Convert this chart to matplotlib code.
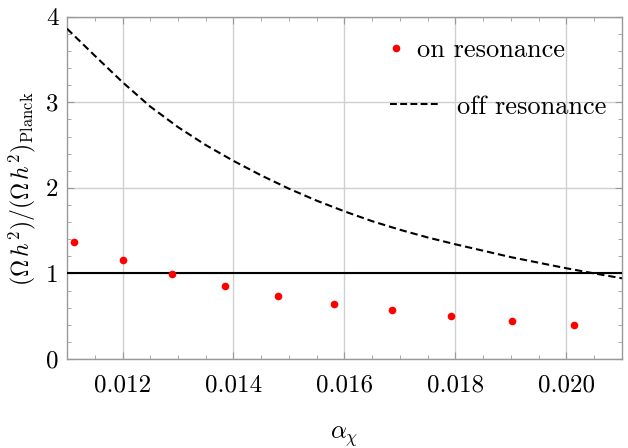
import matplotlib
matplotlib.use("Agg")
import matplotlib.pyplot as plt
from matplotlib.ticker import MultipleLocator
from matplotlib.lines import Line2D

plt.rcParams['font.family'] = 'serif'
plt.rcParams['font.serif'] = ['cmr10', 'DejaVu Serif']
plt.rcParams['mathtext.fontset'] = 'cm'
plt.rcParams['axes.formatter.use_mathtext'] = True

# on-resonance points
on_x = [0.01113, 0.01200, 0.01290, 0.01385, 0.01481, 0.01581, 0.01685, 0.01792, 0.01901, 0.02014]
on_y = [1.363, 1.153, 0.989, 0.849, 0.732, 0.639, 0.569, 0.499, 0.440, 0.394]

# off-resonance curve
off_x = [0.0110, 0.0115, 0.0120, 0.0125, 0.0130, 0.0135, 0.0140, 0.0145, 0.0150, 0.0155,
         0.0160, 0.0165, 0.0170, 0.0175, 0.0180, 0.0185, 0.0190, 0.0195, 0.0200, 0.0205, 0.0210]
off_y = [3.86, 3.545, 3.235, 2.95, 2.71, 2.50, 2.315, 2.145, 1.99, 1.85,
         1.725, 1.61, 1.51, 1.42, 1.34, 1.265, 1.19, 1.125, 1.06, 1.00, 0.943]

planck = 1.0

x_ticks = [0.012, 0.014, 0.016, 0.018, 0.020]
x_tick_labels = ['0.012', '0.014', '0.016', '0.018', '0.020']
y_ticks = [0, 1, 2, 3, 4]
y_tick_labels = ['0', '1', '2', '3', '4']

fig = plt.figure(figsize=(6.28, 4.48), dpi=100)
ax = fig.add_axes([0.1067, 0.1987, 0.8837, 0.764])

h_on, = ax.plot(on_x, on_y, 'o', color='#ff0000', markersize=5.5, markeredgewidth=0,
                zorder=4)
h_off, = ax.plot(off_x, off_y, '--', color='black', linewidth=1.5, dashes=(3.5, 1.9),
                 zorder=3)
ax.axhline(planck, color='black', linewidth=1.5, zorder=3)

ax.set_xlim(0.011, 0.021)
ax.set_ylim(0, 4)
ax.set_xticks(x_ticks)
ax.set_xticklabels(x_tick_labels)
ax.set_yticks(y_ticks)
ax.set_yticklabels(y_tick_labels)
ax.xaxis.set_minor_locator(MultipleLocator(0.0005))
ax.yaxis.set_minor_locator(MultipleLocator(0.2))
ax.tick_params(which='both', direction='in', top=True, right=True, color='#999999')
ax.tick_params(which='major', length=5, width=0.8, labelsize=18)
ax.tick_params(which='minor', length=3, width=0.6)
ax.tick_params(axis='x', which='major', pad=11)
ax.tick_params(axis='y', which='major', pad=6)
ax.grid(True, which='major', color='#d0d0d0', linewidth=1.0)
for s in ax.spines.values():
    s.set_color('#999999')
    s.set_linewidth(1.0)

ax.set_xlabel(r'$\alpha_\chi$', fontsize=18, labelpad=20)
ax.set_ylabel(r'$(\Omega\,h^2)/(\Omega\,h^2)_{\rm Planck}$', fontsize=17)
ax.yaxis.set_label_coords(-0.052, 0.498)

leg1 = ax.legend([h_on], ['on resonance'], loc='center left', frameon=False, fontsize=19,
                 handlelength=1.0, handletextpad=0.27, borderpad=0, borderaxespad=0,
                 bbox_to_anchor=(0.5694, 0.9027))
ax.add_artist(leg1)
off_handle = Line2D([], [], color='black', linestyle='--', linewidth=1.5, dashes=(3.3, 1.6))
leg2 = ax.legend([off_handle], ['off resonance'], loc='center left', frameon=False, fontsize=19,
                 handlelength=1.9, handletextpad=0.64, borderpad=0, borderaxespad=0,
                 bbox_to_anchor=(0.582, 0.737))

fig.savefig('out.png', dpi=100)
